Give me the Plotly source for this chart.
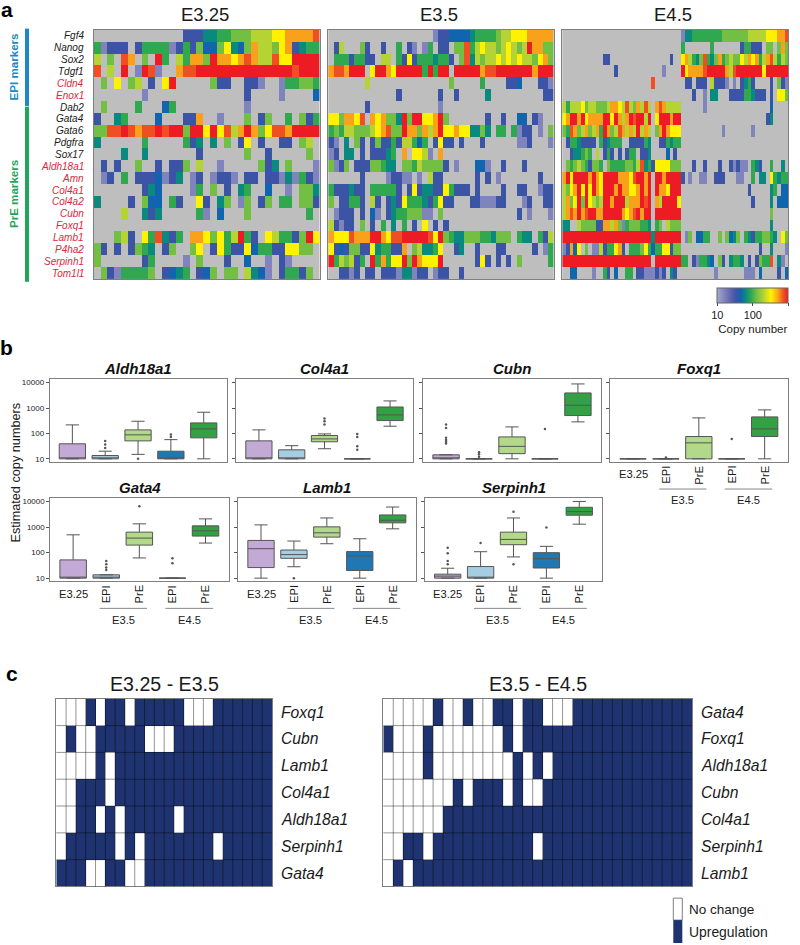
import math

import plotly.graph_objects as go

W, H = 800, 945
FONT = 'Liberation Sans'

# Heatmap copy numbers, one letter per cell ('.' = not detected)
LEVELS = {'.': None, 'l': 16, 'b': 35, 'd': 48, 't': 63, 'g': 91, 'm': 132,
          'y': 209, 'Y': 331, 'o': 525, 'R': 759, 'r': 1000}

GENES_A = ['Fgf4', 'Nanog', 'Sox2', 'Tdgf1', 'Cldn4', 'Enox1', 'Dab2', 'Gata4', 'Gata6', 'Pdgfra', 'Sox17',
           'Aldh18a1', 'Amn', 'Col4a1', 'Col4a2', 'Cubn', 'Foxq1', 'Lamb1', 'P4ha2', 'Serpinh1', 'Tom1l1']
RED_GENES = ['Cldn4', 'Enox1', 'Aldh18a1', 'Amn', 'Col4a1', 'Col4a2', 'Cubn', 'Foxq1', 'Lamb1', 'P4ha2',
             'Serpinh1', 'Tom1l1']

E325_ROWS = [
    ".............bbbttggmmmyyyYYooooR",
    "glbbb.bggggl" + "bgbmddmYtdmoyymYobtgg",
    "y.m.Ro.m.rg.ygoomrooYoRoyyRYYrrrr",
    "R.y.r.lrRl..oRRrrrrrrrrrrrrrrRrrr",
    ".m.Y.my.b.Yr.....mbb..bbl..lggmmg",
    ".......l..............b....l....d",
    ".m....g...dg..........l..........",
    "b..tg....d...bbo..l...m.bm..g.mbg",
    "mmRRrRoRRrRrrmrrYrYRyoromYRRorrrr",
    "t......g.....gbt.t.m.bY.b..bb.my.",
    "....t..t.......b......m..b.....m.",
    ".b.b..m..b.bbm.y..l.....mbt.m...l",
    ".lb.g.bbbdlbt.lb.lbbl.bb.bbltlgbl",
    ".......btd....lg.m.b.tg..d..l.mmt",
    "t....b.mdd.gb..Yb.tm.lm.bm.gg.mmb",
    "....y..tbt.....gl.d...m........g.",
    ".................................",
    "...myb.YgRtbg.ooYmYgyrgb.Yyggbmr" + "Y",
    "mb.b.bmgt.bm..mY.bYgbbYdggbbYYmm.",
    "m......bg....l.m...b..d..l.bl....",
    ".mblggggm.bdtg.bdm.mm.ytdl.bggbm.",
]

E35_ROWS = [
    "....................lbbddddtggggmyyYYYooooo",
    ".by...mb..b..g.bl.lg.bb.mmRgyYyymyYymyroomm",
    ".gggbggbb.yy.gbYbgggtggb.mRtymyyYyYyYyymYom",
    "oRRorrr.YrroYrrrrrgrgrr.rrrrroRRrrrrrrrorrr",
    ".......y...............m.....g....bbd...bbl",
    ".............b.......b..b.....t..........bb",
    ".......b.............l.....................",
    "YYmooYR.oYommtrmrrYYorm.......b..b..dd.bl..",
    "gmgyymmmyYoRmmroomoyorYYoYYttmt.gg.glbb.l.m",
    "bl.t.mb.bmbbgbyygdg.bYbb.b...b......llb...l",
    "lb.tt.b.bbbtg.o.YYyl.o.....................",
    "mlbm.bbbmmgtt.mmgymmmmb.l...ddl..b...b.....",
    "......b....lbbll.l.ybb......b.b.l.......b..",
    "gbbbtbb.gggggb.bYbttbbYgbbb.b....b..bb..lbb",
    "m.bbggb.yb.btbYgggtbgYbb...bblllbb...lb..bb",
    ".lbbb.b.dl.btggmmmll.m..............b.l...l",
    "yblbb.m.b.g.t.g.b.Y.b.b....................",
    "oYYYRooorroYRRrrrrrRYrmgttmmmggtmmm.gtt.gby",
    "YbdbmmbbYtggbbo.myttgY..bt..b...bb.....b.lg",
    "rgymybg.rgogYYrmroYYYr......bYb.b.b.m.....g",
    "..bblb.bb.bbblttlbb.lbb..b.................",
]

E45_ROWS = [
    "................................" + "lttggggggggmmmmmmmyyyyyYYYooR",
    "................................" + "g.......g.......bggbbb.mm.mom",
    "...........bb................b.." + "YoygtmRgtmogmymmYyoYogyoRygym",
    "..............b............l...." + "rYooooRrrrrroyRrrrrrrrYrrrrrr",
    "........................R......." + ".bb.bbb.ybbbl.l.btgb....b.mbl",
    "................................" + "...b..l.tt...bbbbggtbbb.b.YYm",
    "ygyyyYmyymmmyooYyRymoyRy.oRoyyyy" + "......l.................d....",
    "YorrorYoooorrYroyorRrryr.Yrrrorr" + ".......................bt....",
    "mgRomyomyogromyRoyoyryoy.moroYYY" + "...........l.......l.........",
    ".bggtbbbb.gbtggg..bbbbgt..bbgtgg" + ".............................",
    "..bttgmg.y.bgb.b.bgg.bbt....d.b." + ".............................",
    ".mgmymgbmmg.mggggmmgyRtgbYYYYmmm" + "...b..b...b..blbll.gtb..g..t.",
    "orYrrrroroYrrrroooYRrror.rrorrrr" + "b.l..ll..bbb...ll..g.tt.Ygtgg",
    "ymYorYrYroYrrrorooYYoror.rooYrrr" + "..................b.....tg.dd",
    "yomYrmrYymyrrorrryooorRr.oyrrrrY" + "...................b....t.ddd",
    "yoRoroRrroorrrrroYoRrorr.rrrrrrr" + "........................m....",
    "tt..ymmmmbbooyomlgmmmggt.gm.ymmm" + "........................t....",
    "rrrrrrrrrrrrrrrrrrrrrrrrtrrrrrrr" + ".lm.ddgg..m.mdtm.gtbggmmgt.Ym",
    "lbodY.m.llybggYob.gggmYgdggYYbmm" + ".....................b..t...l",
    "rrrrrrrrrrrrrrrrrrrrrrrr.rrrrrrr" + "gg.blggtd.mb.tggt.b.bmggR.tl.",
    "..dd....l..gb.d..gg.bblllblb.tb." + ".........l.......lll.d....b.d",
]

COPY_COLORS = [[0, '#a8a8cc'], [0.2, '#5a62ad'], [0.28, '#3953a4'], [0.34, '#1165ae'], [0.40, '#0a8a7f'],
               [0.48, '#2fa84f'], [0.56, '#72bf44'], [0.66, '#b5d433'], [0.76, '#fff200'], [0.86, '#f9a11b'],
               [0.94, '#f04e23'], [1, '#ed1c24']]

# Box plot summaries, one entry per gene, five groups each
BOX_GENES = ['Aldh18a1', 'Col4a1', 'Cubn', 'Foxq1', 'Gata4', 'Lamb1', 'Serpinh1']
BOX_GROUPS = ['E3.25', 'EPI', 'PrE', 'EPI', 'PrE']
BOX_COLORS = ['#c3a9d6', '#a6cee3', '#b2d98a', '#1f78b4', '#33a044']

BOX_LOW = [[10, 10, 15, 10, 10], [10, 10, 25, 10, 192], [10, 10, 10, 10, 285], [10, 10, 10, 10, 10],
           [10, 10, 62, 10, 238], [10, 28, 224, 10, 860], [10, 10, 68, 10, 1309]]
BOX_Q1 = [[10, 10, 51, 10, 67], [10, 10, 47, 10, 321], [10, 10, 16, 10, 506], [10, 10, 10, 10, 75.5],
          [10, 10, 198, 10, 447], [26, 60, 407, 20, 1480], [10, 10, 205, 25, 2950]]
BOX_MED = [[10, 10, 88, 10, 151], [10, 10, 61, 10, 537], [10, 10, 31, 10, 1290], [10, 10, 42.6, 10, 151],
           [10, 10, 373, 10, 720], [143, 84, 600, 74, 1870], [12, 10, 331, 58, 4070]]
BOX_Q3 = [[39, 13.5, 138, 20, 260], [51, 22.6, 83, 10, 1100], [14.4, 10, 73, 10, 3935], [10, 10, 75.5, 10, 448],
          [52, 13.5, 638, 10, 1125], [302, 127, 1030, 110, 3020], [14.3, 28.5, 638, 100, 6020]]
BOX_HIGH = [[217, 20, 302, 57, 684], [138, 33, 96, 10, 1905], [14.4, 10, 181, 10, 8900], [10, 10, 409, 10, 845],
            [501, 13.5, 1349, 10, 2113], [1230, 285, 2300, 351, 6170], [24.5, 109, 2300, 177, 10200]]
# Outliers as (group index, value)
BOX_OUT = [
    [(1, 50), (1, 37), (1, 27), (2, 10), (3, 90), (3, 73)],
    [(2, 385), (2, 302), (2, 224), (3, 96), (3, 73), (3, 31), (3, 23)],
    [(0, 224), (0, 165), (0, 67), (0, 55), (0, 47), (0, 40), (1, 18), (1, 15), (1, 12), (3, 151)],
    [(1, 11.3), (3, 61)],
    [(1, 47), (1, 35), (1, 26), (1, 21), (2, 6600), (3, 60), (3, 38)],
    [(1, 10)],
    [(0, 157), (0, 94), (0, 47), (0, 35), (1, 238), (2, 4070), (2, 35), (3, 971)],
]

# Binary tables of panel c (0 = no change, 1 = upregulation)
GENES_LEFT = ['Foxq1', 'Cubn', 'Lamb1', 'Col4a1', 'Aldh18a1', 'Serpinh1', 'Gata4']
ROWS_LEFT = ['0001011011111000111111',
             '0100111110001111111111',
             '0000101111111111111111',
             '0011101111111111111111',
             '0011010111110111111111',
             '0111110101111111011111',
             '1110011001111111111111']
GENES_RIGHT = ['Gata4', 'Foxq1', 'Aldh18a1', 'Cubn', 'Col4a1', 'Serpinh1', 'Lamb1']
ROWS_RIGHT = ['0000010010011011000111111111111',
              '1000100000001011111111111111111',
              '0000100000000101011111111111111',
              '0000000101110100111111111111111',
              '0000001111111111111111111111111',
              '0011011111111110111111111111111',
              '0101111111111111111111111111111']

NAVY = '#1f3370'
FRAME = '#7f7f7f'

fig = go.Figure()
layout = {}
shapes = []
annotations = []


def ann(px, py, text, size, color='#1a1a1a', xanchor='center', angle=0, xref='paper'):
    x = px / W if xref == 'paper' else px
    annotations.append(dict(x=x, y=1 - py / H, xref=xref, yref='paper', text=text, showarrow=False,
                            xanchor=xanchor, yanchor='middle', textangle=angle,
                            font=dict(size=size, color=color, family=FONT)))


def axes(n, box, xrange, yrange, **yextra):
    ''' Create the n-th axis pair from a pixel box (x0, y0, x1, y1) '''
    suffix = '' if n == 1 else str(n)
    layout['xaxis' + suffix] = dict(domain=[box[0] / W, box[2] / W], range=xrange, anchor='y' + suffix,
                                    showgrid=False, zeroline=False, showticklabels=False, ticks='',
                                    showline=True, mirror=True, linecolor=FRAME, linewidth=1)
    yaxis = dict(domain=[1 - box[3] / H, 1 - box[1] / H], range=yrange, anchor='x' + suffix,
                 showgrid=False, zeroline=False, showticklabels=False, ticks='',
                 showline=True, mirror=True, linecolor=FRAME, linewidth=1)
    yaxis.update(yextra)
    layout['yaxis' + suffix] = yaxis
    return 'x' + suffix, 'y' + suffix


# Panel a
for i, (rows, box, title) in enumerate(zip([E325_ROWS, E35_ROWS, E45_ROWS],
                                           [(93.7, 29, 319.5, 279), (328.3, 29, 553.7, 279), (562.3, 29, 788, 279)],
                                           ['E3.25', 'E3.5', 'E4.5'])):
    ncol = len(rows[0])
    xa, ya = axes(i + 1, box, [-0.5, ncol - 0.5], [len(rows) - 0.5, -0.5])
    shapes.append(dict(type='rect', xref=xa + ' domain', yref=ya + ' domain', x0=0, x1=1, y0=0, y1=1,
                       fillcolor='#bebebe', line_width=0, layer='below'))
    z = [[(None if LEVELS[c] is None else math.log10(LEVELS[c])) for c in row.ljust(ncol, '.')[:ncol]] for row in rows]
    fig.add_trace(go.Heatmap(z=z, xaxis=xa, yaxis=ya, coloraxis='coloraxis', hoverongaps=False))
    ann((box[0] + box[2]) / 2 - 2, 13.5, title, 18.5)

layout['coloraxis'] = dict(cmin=1, cmax=3, colorscale=COPY_COLORS, colorbar=dict(
    orientation='h', x=717.3 / W, xanchor='left', y=1 - 287.5 / H, yanchor='top',
    len=70.7, lenmode='pixels', thickness=15, thicknessmode='pixels', xpad=0, ypad=0,
    outlinecolor='#666666', outlinewidth=1,
    tickvals=[1, 2, 3], ticktext=['10', '100', '1000'], ticks='outside', ticklen=3, tickcolor='#444444',
    tickfont=dict(size=11, family=FONT, color='#1a1a1a'),
    title=dict(text='Copy number', side='bottom', font=dict(size=11.5, family=FONT, color='#1a1a1a'))))

for i, gene in enumerate(GENES_A):
    color = '#d9273e' if gene in RED_GENES else '#1a1a1a'
    ann(85.7, 29 + (i + 0.5) * 250 / 21, f'<i>{gene}</i>', 10, color, xanchor='right')

shapes.append(dict(type='rect', xref='paper', yref='paper', x0=25 / W, x1=29 / W, y0=1 - 105.3 / H, y1=1 - 27.7 / H,
                   fillcolor='#1b8ac4', line_width=0))
shapes.append(dict(type='rect', xref='paper', yref='paper', x0=25 / W, x1=29 / W, y0=1 - 281.7 / H, y1=1 - 106 / H,
                   fillcolor='#1fa65a', line_width=0))
ann(13.7, 66, '<b>EPI markers</b>', 11.6, '#1b8ac4', angle=-90)
ann(13.7, 194, '<b>PrE markers</b>', 11.6, '#1fa65a', angle=-90)

# Panel b
BOX_PANELS = [(49.7, 379.3, 226.7, 462.3), (236.3, 379.3, 413, 462.3), (423.3, 379.3, 601, 462.3),
              (610.3, 379.3, 787.7, 462.3), (50.3, 498.7, 228.7, 582), (238.3, 498.7, 415.7, 582),
              (425, 498.7, 602.3, 582)]
WITH_LABELS = ['Foxq1', 'Gata4', 'Lamb1', 'Serpinh1']

for i, gene in enumerate(BOX_GENES):
    box = BOX_PANELS[i]
    first = gene in ('Aldh18a1', 'Gata4')
    xa, ya = axes(4 + i, box, [-0.69, 4.70], [0.882, 4.14], type='log',
                  tickvals=[10, 100, 1000, 10000], ticktext=['10', '100', '1000', '10000'],
                  ticks='outside', ticklen=3, tickcolor='#555555', showticklabels=first,
                  tickfont=dict(size=8, family=FONT, color='#222222'))
    for g in range(5):
        fig.add_trace(go.Box(x=[g], q1=[BOX_Q1[i][g]], median=[BOX_MED[i][g]], q3=[BOX_Q3[i][g]],
                             lowerfence=[BOX_LOW[i][g]], upperfence=[BOX_HIGH[i][g]],
                             width=0.8, whiskerwidth=0.5, boxpoints=False, fillcolor=BOX_COLORS[g],
                             line=dict(color='#555555', width=1), xaxis=xa, yaxis=ya))
    fig.add_trace(go.Scatter(x=[o[0] for o in BOX_OUT[i]], y=[o[1] for o in BOX_OUT[i]], mode='markers',
                             marker=dict(size=2.5, color='#555555'), xaxis=xa, yaxis=ya))
    ann((box[0] + box[2]) / 2, box[1] - 11, f'<b><i>{gene}</i></b>', 15, '#111111')
    if gene in WITH_LABELS:
        bottom = box[3]
        ann(0, bottom + 12.5, BOX_GROUPS[0], 11.2, xref=xa)
        for g in range(1, 5):
            ann(g, bottom + 13, BOX_GROUPS[g], 11.2, angle=-90, xref=xa)
        for lo, hi, name in [(0.8, 2.23, 'E3.5'), (2.79, 4.23, 'E4.5')]:
            shapes.append(dict(type='line', xref=xa, yref='paper', x0=lo, x1=hi,
                               y0=1 - (bottom + 27.3) / H, y1=1 - (bottom + 27.3) / H,
                               line=dict(color='#888888', width=1)))
            ann((lo + hi) / 2, bottom + 38.7, name, 11.2, xref=xa)

ann(16, 473, 'Estimated copy numbers', 12.7, angle=-90)

# Panel c
for k, (rows, genes, box, title) in enumerate([
        (ROWS_LEFT, GENES_LEFT, (56.3, 700, 272, 888.3), 'E3.25 - E3.5'),
        (ROWS_RIGHT, GENES_RIGHT, (383.3, 700, 692, 888.3), 'E3.5 - E4.5')]):
    ncol = len(rows[0])
    xa, ya = axes(11 + k, box, [-0.5, ncol - 0.5], [len(rows) - 0.5, -0.5])
    fig.add_trace(go.Heatmap(z=[[int(c) for c in row] for row in rows], zmin=0, zmax=1, showscale=False,
                             colorscale=[[0, 'white'], [1, NAVY]], xaxis=xa, yaxis=ya))
    grid = dict(color='rgba(0,0,0,0.42)', width=1)
    for c in range(1, ncol):
        shapes.append(dict(type='line', xref=xa, yref=ya + ' domain', x0=c - 0.5, x1=c - 0.5, y0=0, y1=1, line=grid))
    for r in range(1, len(rows)):
        shapes.append(dict(type='line', xref=xa + ' domain', yref=ya, x0=0, x1=1, y0=r - 0.5, y1=r - 0.5, line=grid))
    for r, gene in enumerate(genes):
        ann(box[2] + 6.5, box[1] + (r + 0.5) * (box[3] - box[1]) / 7, f'<i>{gene}</i>', 15.7, xanchor='left')
    ann((box[0] + box[2]) / 2, 685, title, 19.6)

# Legend of panel c
shapes.append(dict(type='rect', xref='paper', yref='paper', x0=673.3 / W, x1=682.3 / W, y0=1 - 922 / H, y1=1 - 900 / H,
                   fillcolor='white', line=dict(color=FRAME, width=1)))
shapes.append(dict(type='rect', xref='paper', yref='paper', x0=673.3 / W, x1=682.3 / W, y0=1 - 945 / H, y1=1 - 922 / H,
                   fillcolor=NAVY, line_width=0))
ann(687.3, 911, 'No change', 13.5, xanchor='left')
ann(687.3, 933.5, 'Upregulation', 13.9, xanchor='left')

# Panel letters
ann(6.5, 9, '<b>a</b>', 21, '#000000')
ann(6.5, 348, '<b>b</b>', 21, '#000000')
ann(12, 675, '<b>c</b>', 21, '#000000')

fig.update_layout(width=W, height=H, margin=dict(l=0, r=0, t=0, b=0), showlegend=False, boxmode='overlay',
                  paper_bgcolor='white', plot_bgcolor='rgba(0,0,0,0)', font=dict(family=FONT),
                  shapes=shapes, annotations=annotations, **layout)

# The page body has a default margin that would shift the whole figure
fig.write_html("out.html", config={'displayModeBar': False},
               post_script="document.body.style.margin='0';document.documentElement.style.overflow='hidden';")
